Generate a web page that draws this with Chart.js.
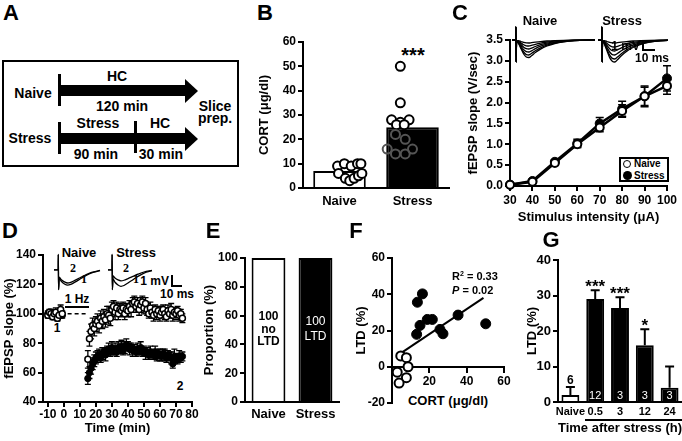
<!DOCTYPE html>
<html>
<head>
<meta charset="utf-8">
<script src="https://cdn.jsdelivr.net/npm/chart.js@4.4.1/dist/chart.umd.min.js"></script>
<style>
html,body{margin:0;padding:0;background:#fff;}
body{width:682px;height:441px;overflow:hidden;position:relative;font-family:"Liberation Sans",Arial,Helvetica,sans-serif;font-weight:bold;color:#000;}
canvas{position:absolute;}
.t{position:absolute;white-space:nowrap;line-height:1;}
.blk{position:absolute;background:#000;}
.tri{position:absolute;width:0;height:0;border-top:12px solid transparent;border-bottom:12px solid transparent;border-left:13px solid #000;}
</style>
</head>
<body>
<!-- Panel A diagram -->
<div style="position:absolute;left:2px;top:60px;width:237px;height:107px;border:2px solid #000;box-sizing:border-box;"></div>
<div class="blk" style="left:58px;top:74px;width:3px;height:32px"></div>
<div class="blk" style="left:59px;top:85px;width:127px;height:11px"></div>
<div class="tri" style="left:185px;top:78.5px"></div>
<div class="blk" style="left:58px;top:122px;width:3px;height:32px"></div>
<div class="blk" style="left:59px;top:133px;width:127px;height:11px"></div>
<div class="blk" style="left:134px;top:121px;width:3px;height:32px"></div>
<div class="tri" style="left:185px;top:126.5px"></div>
<!-- scale bars -->
<div class="blk" style="left:642px;top:40px;width:2px;height:11px"></div>
<div class="blk" style="left:642px;top:49px;width:13px;height:2px"></div>
<div class="blk" style="left:171px;top:275px;width:2px;height:12px"></div>
<div class="blk" style="left:171px;top:285px;width:11px;height:2px"></div>
<!-- 1 Hz bar -->
<div class="blk" style="left:65px;top:306px;width:24px;height:2px"></div>
<!-- G underline -->
<div class="blk" style="left:585px;top:419px;width:97px;height:1.5px"></div>
<!-- C legend -->
<div style="position:absolute;left:619px;top:157px;width:50px;height:25px;border:2px solid #000;box-sizing:border-box;background:#fff;"></div>
<div style="position:absolute;left:623px;top:160px;width:6px;height:6px;border:1.5px solid #000;border-radius:50%;background:#fff;"></div>
<div style="position:absolute;left:623px;top:171px;width:9px;height:9px;border-radius:50%;background:#000;"></div>

<script>
// ================= DATA =================
// Panel B
const bGroups = ['Naive', 'Stress'];
const bMeans = [7, 25];
const bNaiveVals = [9, 10, 9, 10, 10, 6, 4, 3, 4, 5, 6];
const bNaiveJitter = [-0.29, -0.15, -0.01, 0.12, 0.19, -0.27, -0.13, -0.04, 0.05, 0.14, 0.21];
const bStressVals = [50, 35, 28, 28, 27, 26, 26, 22, 20, 16, 14, 14, 16];
const bStressJitter = [0, 0, -0.18, 0.18, 0, -0.08, 0.08, -0.1, 0.1, -0.27, -0.1, 0.1, 0.25];
const bYTicks = [0, 10, 20, 30, 40, 50, 60];

// Panel C
const cIntensity = [30, 40, 50, 60, 70, 80, 90, 100];
const cNaive = [0.03, 0.1, 0.55, 1.0, 1.4, 1.8, 2.15, 2.4];
const cNaiveErr = [0.02, 0.03, 0.05, 0.08, 0.1, 0.15, 0.22, 0.2];
const cStress = [0.03, 0.12, 0.58, 1.02, 1.5, 1.85, 2.15, 2.58];
const cStressErr = [0.02, 0.03, 0.05, 0.1, 0.14, 0.18, 0.25, 0.3];
const cYTicks = [0, 0.5, 1, 1.5, 2, 2.5, 3, 3.5];
const cXTicks = [30, 40, 50, 60, 70, 80, 90, 100];
// Panel C inset traces (ms, mV)
const cTraceT = [0, 2.9, 3.0, 3.2, 3.5, 5, 7, 9, 11, 13, 15, 18, 22, 27, 33, 40, 48, 64];
const cNaiveTraces = [
  [0,0,1.3,-2.2,-0.1,-0.06,-0.15,-0.24,-0.29,-0.3,-0.27,-0.22,-0.16,-0.1,-0.06,-0.03,-0.01,0],
  [0,0,1.3,-2.2,-0.1,-0.12,-0.3,-0.48,-0.58,-0.6,-0.54,-0.43,-0.31,-0.2,-0.12,-0.06,-0.02,0],
  [0,0,1.3,-2.2,-0.1,-0.18,-0.45,-0.72,-0.87,-0.9,-0.81,-0.65,-0.47,-0.31,-0.18,-0.09,-0.04,0],
  [0,0,1.3,-2.2,-0.1,-0.24,-0.6,-0.96,-1.16,-1.2,-1.08,-0.86,-0.62,-0.41,-0.24,-0.12,-0.05,0],
  [0,0,1.3,-2.2,-0.1,-0.3,-0.75,-1.2,-1.46,-1.5,-1.35,-1.08,-0.78,-0.51,-0.3,-0.15,-0.06,0],
  [0,0,1.3,-2.2,-0.1,-0.35,-0.88,-1.4,-1.7,-1.75,-1.58,-1.26,-0.91,-0.6,-0.35,-0.18,-0.07,0]
];
const cStressTraces = [
  [0,0,1.3,-2.2,-0.1,-0.06,-0.15,-0.24,-0.29,-0.3,-0.27,-0.22,-0.16,-0.1,-0.06,-0.03,-0.01,0],
  [0,0,1.3,-2.2,-0.1,-0.14,-0.35,-0.56,-0.68,-0.7,-0.63,-0.5,-0.36,-0.24,-0.14,-0.07,-0.03,0],
  [0,0,1.3,-2.2,-0.1,-0.22,-0.55,-0.88,-1.07,-1.1,-0.99,-0.79,-0.57,-0.37,-0.22,-0.11,-0.04,0],
  [0,0,1.3,-2.2,-0.1,-0.3,-0.75,-1.2,-1.46,-1.5,-1.35,-1.08,-0.78,-0.51,-0.3,-0.15,-0.06,0],
  [0,0,1.3,-2.2,-0.1,-0.38,-0.95,-1.52,-1.84,-1.9,-1.71,-1.37,-0.99,-0.65,-0.38,-0.19,-0.08,0],
  [0,0,1.3,-2.2,-0.1,-0.44,-1.1,-1.76,-2.13,-2.2,-1.98,-1.58,-1.14,-0.75,-0.44,-0.22,-0.09,0]
];

// Panel D
const dBaseT = [-10, -9, -8, -7, -6, -5, -4, -3, -2, -1];
const dNaiveBase = [99, 101, 100, 98, 100, 101, 97, 99, 103, 100];
const dNaiveBaseErr = [2, 2, 3, 2, 2, 3, 2, 2, 3, 2];
const dStressBase = [100, 99, 101, 100, 99, 100, 98, 100, 101, 99];
const dStressBaseErr = [2, 2, 2, 2, 3, 2, 2, 2, 2, 2];
const dPostT = [15,16,17,18,19,20,21,22,23,24,25,26,27,28,29,30,31,32,33,34,35,36,37,38,39,40,41,42,43,44,
                45,46,47,48,49,50,51,52,53,54,55,56,57,58,59,60,61,62,63,64,65,66,67,68,69,70,71,72,73,74];
const dNaivePost = [69,83,88,92,90,93,95,92,97,95, 98,96,100,99,97,103,105,101,104,100,
                    103,102,104,100,103,102,105,103,107,108, 105,107,103,106,108,104,107,103,100,104,
                    101,99,103,100,102,99,101,103,100,98, 102,100,103,99,101,100,102,99,100,97];
const dNaivePostErr = [6,5,5,5,5,5,5,5,5,5, 5,5,5,6,5,5,4,5,4,4, 4,4,4,4,4,4,4,5,4,4,
                       4,4,4,5,4,4,4,4,3,4, 4,4,3,4,3,4,4,3,4,3, 4,3,4,4,3,4,3,4,3,3];
const dStressPost = [56,60,63,66,68,70,71,72,70,73, 74,72,75,76,74,77,75,76,74,77,
                     76,78,75,77,79,78,76,77,75,76, 74,76,75,77,74,75,73,74,72,74,
                     73,72,74,71,73,72,71,73,72,70, 72,71,70,66,71,70,69,71,70,71];
const dStressPostErr = [4,4,4,4,4,4,4,4,3,4, 3,4,3,4,3,4,3,4,3,4, 3,4,3,4,4,3,4,3,4,3,
                        3,4,3,4,3,3,4,3,3,4, 3,3,4,3,3,4,3,3,4,3, 3,3,4,3,5,3,3,4,3,3];
const dDashT = [-2, 15];
const dDashLevel = 100;
const dXTicks = [-10, 0, 10, 20, 30, 40, 50, 60, 70, 80];
const dYTicks = [40, 60, 80, 100, 120, 140];
// Panel D inset traces
const dTraceT = [0, 4, 4.1, 4.4, 5, 7, 10, 13, 16, 20, 25, 30, 36, 44];
const dNaiveTraces = [
  [0,0,1.4,-1.8,-0.77,-1.05,-1.29,-1.4,-1.33,-1.12,-0.84,-0.56,-0.28,-0.07],
  [0,0,1.4,-1.8,-0.66,-0.9,-1.1,-1.2,-1.14,-0.96,-0.72,-0.48,-0.24,-0.06]
];
const dStressTraces = [
  [0,0,1.4,-1.8,-0.83,-1.13,-1.38,-1.5,-1.43,-1.2,-0.9,-0.6,-0.3,-0.08],
  [0,0,1.4,-1.8,-0.55,-0.75,-0.92,-1.0,-0.95,-0.8,-0.6,-0.4,-0.2,-0.05]
];

// Panel E
const eGroups = ['Naive', 'Stress'];
const eValues = [100, 100];
const eBarText = [['100', 'no', 'LTD'], ['100', 'LTD']];
const eYTicks = [0, 20, 40, 60, 80, 100];

// Panel F
const fStressX = [13.6, 16.3, 15.0, 13.2, 18.9, 21.6, 25.7, 27.3, 35.4, 50.2];
const fStressY = [35.6, 40.2, 22.8, 17.9, 26.1, 26.1, 20.6, 18.2, 28.5, 23.7];
const fNaiveX = [4.7, 7.7, 8.6, 2.8, 7.7, 3.8];
const fNaiveY = [6, 5, 0, -3, -6, -9];
const fFitX = [5, 49];
const fFitY = [7.7, 38];
const fXTicks = [20, 40, 60];
const fYTicks = [-20, 0, 20, 40, 60];

// Panel G
const gLabels = ['Naive', '0.5', '3', '12', '24'];
const gMeans = [2, 29, 26.5, 16, 4];
const gErr = [2.2, 2.5, 3, 4.5, 6];
const gStars = ['', '***', '***', '*', ''];
const gN = ['6', '12', '3', '3', '3'];
const gYTicks = [0, 10, 20, 30, 40];

// ================= HELPERS =================
const FONT = '"Liberation Sans", Arial, Helvetica, sans-serif';
Chart.defaults.font.family = FONT;
Chart.defaults.font.weight = 'bold';
Chart.defaults.color = '#000';

function txt(html, cx, cy, size, extra, anchor) {
  const d = document.createElement('div');
  d.className = 't';
  d.innerHTML = html;
  d.style.left = cx + 'px';
  d.style.top = cy + 'px';
  d.style.fontSize = size + 'px';
  d.style.transform = anchor === 'left' ? 'translate(0,-50%)' : anchor === 'right' ? 'translate(-100%,-50%)' : 'translate(-50%,-50%)';
  if (extra) Object.assign(d.style, extra);
  document.body.appendChild(d);
  return d;
}

const PAD = 24;
function mk(area, yW, xH, cfg) {
  const c = document.createElement('canvas');
  const w = Math.round(area.r - area.l + yW + 2 * PAD);
  const h = Math.round(area.b - area.t + xH + 2 * PAD);
  c.style.left = (area.l - yW - PAD) + 'px';
  c.style.top = (area.t - PAD) + 'px';
  c.style.width = w + 'px';
  c.style.height = h + 'px';
  c.width = w; c.height = h;
  document.body.appendChild(c);
  const opts = cfg.options || {};
  cfg.options = Object.assign({responsive: false, maintainAspectRatio: false, animation: false, layout: {padding: PAD}}, opts);
  cfg.options.plugins = Object.assign({legend: {display: false}, tooltip: {enabled: false}}, opts.plugins || {});
  return new Chart(c, cfg);
}

function tickFont(sz) { return {family: FONT, weight: 'bold', size: sz || 12}; }
function titleOpt(text, sz) {
  return {display: !!text, text: text || '', color: '#000', font: {family: FONT, weight: 'bold', size: sz || 13}, padding: 0};
}
function linAxis(o) {
  const horiz = o.pos !== 'left';
  return {
    type: 'linear', position: o.pos, min: o.min, max: o.max,
    afterFit: s => { if (o.size != null) { if (horiz) s.height = o.size; else s.width = o.size; } },
    afterBuildTicks: s => { s.ticks = o.ticks.map(v => ({value: v})); },
    ticks: {autoSkip: false, maxRotation: 0, minRotation: 0, padding: o.pad == null ? 2 : o.pad, color: '#000',
            font: tickFont(o.fontSize), callback: o.fmt || (v => String(v))},
    grid: {drawOnChartArea: false, drawTicks: true, tickLength: o.tl == null ? 5 : o.tl, color: '#000', lineWidth: 2, tickWidth: 2},
    border: {display: true, color: '#000', width: 2},
    title: titleOpt(o.title, o.titleSize)
  };
}
function catAxis(o) {
  return {
    type: 'category', position: 'bottom', offset: true,
    afterFit: s => { s.height = o.size; },
    ticks: {autoSkip: false, maxRotation: 0, minRotation: 0, padding: o.pad, color: '#000', font: tickFont(o.fontSize)},
    grid: {display: false, drawTicks: false},
    border: {display: true, color: '#000', width: 2},
    title: titleOpt(o.title, o.titleSize)
  };
}

// error bars drawn through the chart's own scales
function drawErr(chart, when) {
  const ctx = chart.ctx;
  chart.data.datasets.forEach((ds, i) => {
    if (!ds.errors || (ds.errWhen || 'before') !== when) return;
    const meta = chart.getDatasetMeta(i);
    const ys = chart.scales[meta.yAxisID];
    ctx.save();
    ctx.strokeStyle = '#000';
    ctx.lineWidth = ds.errWidth || 1.5;
    meta.data.forEach((el, j) => {
      const e = ds.errors[j];
      if (!e) return;
      const raw = ds.data[j];
      const v = (typeof raw === 'object') ? raw.y : raw;
      const x = el.x;
      const yTop = ys.getPixelForValue(v + e);
      const yBot = ys.getPixelForValue(v - e);
      const y0 = ds.errUpOnly ? ys.getPixelForValue(v) : yBot;
      const cap = ds.errCap || 4;
      ctx.beginPath();
      ctx.moveTo(x, y0); ctx.lineTo(x, yTop);
      ctx.moveTo(x - cap, yTop); ctx.lineTo(x + cap, yTop);
      if (!ds.errUpOnly) { ctx.moveTo(x - cap, yBot); ctx.lineTo(x + cap, yBot); }
      ctx.stroke();
    });
    ctx.restore();
  });
}
const errPlugin = {
  id: 'errBars',
  beforeDatasetsDraw(chart) { drawErr(chart, 'before'); },
  afterDatasetsDraw(chart) { drawErr(chart, 'after'); }
};

function xy(xs, ys) { return xs.map((x, i) => ({x: x, y: ys[i]})); }

// ================= PANEL A text =================
txt('A', 11, 13, 22);
txt('Naive', 33, 93, 14);
txt('HC', 117, 76, 14);
txt('120 min', 122, 106, 14);
txt('Stress', 30, 138, 14);
txt('Stress', 98, 123, 14);
txt('HC', 160, 123, 14);
txt('90 min', 96, 154, 14);
txt('30 min', 161, 154, 14);
txt('Slice', 215, 106, 14);
txt('prep.', 215, 118, 14);

// ================= PANEL B =================
txt('B', 265, 13, 22);
txt('***', 413, 55, 20);
mk({l: 303, r: 449, t: 42, b: 188}, 46, 30, {
  type: 'bar',
  data: {
    labels: bGroups,
    datasets: [
      {type: 'scatter', xAxisID: 'x2', order: 0, clip: false,
       data: xy(bNaiveJitter.map(j => 0 + j), bNaiveVals),
       pointRadius: 4.5, pointBorderWidth: 2, pointBorderColor: '#000', pointBackgroundColor: '#fff'},
      {type: 'scatter', xAxisID: 'x2', order: 0, clip: false,
       data: xy(bStressJitter.map(j => 1 + j), bStressVals),
       pointRadius: 4.5, pointBorderWidth: 2,
       pointBorderColor: ctx => (ctx.raw && ctx.raw.y < bMeans[1]) ? '#555' : '#000',
       pointBackgroundColor: ctx => (ctx.raw && ctx.raw.y < bMeans[1]) ? 'rgba(0,0,0,0)' : '#fff'},
      {type: 'bar', xAxisID: 'x', order: 1, grouped: false, data: bMeans, backgroundColor: ['#fff', '#000'], borderColor: '#000', borderWidth: 2,
       barPercentage: 0.72, categoryPercentage: 1}
    ]
  },
  options: {
    scales: {
      x: catAxis({size: 30, pad: 6, fontSize: 13}),
      x2: {type: 'linear', position: 'bottom', display: false, min: -0.5, max: 1.5},
      y: linAxis({pos: 'left', min: 0, max: 60, ticks: bYTicks, size: 46, title: 'CORT (\u03bcg/dl)'})
    }
  }
});

// ================= PANEL C =================
txt('C', 460, 13, 22);
txt('Naive', 540, 20, 13);
txt('Stress', 622, 20, 13);
txt('1 mV', 640, 46, 12, null, 'right');
txt('10 ms', 652, 58, 12);
txt('Naive', 634, 164, 10, null, 'left');
txt('Stress', 634, 176, 10, null, 'left');
mk({l: 510, r: 667, t: 40, b: 186}, 44, 39, {
  type: 'scatter',
  data: {
    datasets: [
      {label: 'Naive', order: 0, clip: false, data: xy(cIntensity, cNaive), errors: cNaiveErr, errCap: 4,
       showLine: true, borderColor: '#000', borderWidth: 2.5,
       pointRadius: 4, pointBorderWidth: 2, pointBorderColor: '#000', pointBackgroundColor: '#fff'},
      {label: 'Stress', order: 1, clip: false, data: xy(cIntensity, cStress), errors: cStressErr, errCap: 4,
       showLine: true, borderColor: '#000', borderWidth: 2.5,
       pointRadius: 4.5, pointBorderWidth: 1, pointBorderColor: '#000', pointBackgroundColor: '#000'}
    ]
  },
  options: {
    scales: {
      x: linAxis({pos: 'bottom', min: 30, max: 100, ticks: cXTicks, size: 39, pad: 2, title: 'Stimulus intensity (\u03bcA)'}),
      y: linAxis({pos: 'left', min: 0, max: 3.5, ticks: cYTicks, size: 44, fmt: v => v.toFixed(1), title: 'fEPSP slope (V/sec)'})
    }
  },
  plugins: [errPlugin]
});

function traceChart(area, times, traces, xr, yr, clip) {
  return mk(area, 0, 0, {
    type: 'line',
    data: {datasets: traces.map(tr => ({data: xy(times, tr), borderColor: '#000', borderWidth: 1.3, pointRadius: 0,
                                        cubicInterpolationMode: 'monotone', clip: clip}))},
    options: {scales: {
      x: {type: 'linear', min: xr[0], max: xr[1], display: false},
      y: {type: 'linear', min: yr[0], max: yr[1], display: false}
    }}
  });
}
traceChart({l: 512, r: 595, t: 25, b: 65}, cTraceT, cNaiveTraces, [0, 64], [-2.5, 1.5], false);
traceChart({l: 598, r: 668, t: 25, b: 65}, cTraceT, cStressTraces, [0, 54], [-2.5, 1.5], undefined);

// ================= PANEL D =================
txt('D', 10, 231, 22);
txt('Naive', 79, 252, 13);
txt('Stress', 136, 252, 13);
txt('2', 73, 268, 12, {fontFamily: '"Liberation Serif", "Times New Roman", serif'});
txt('1', 84, 279, 12, {fontFamily: '"Liberation Serif", "Times New Roman", serif'});
txt('2', 126, 268, 12, {fontFamily: '"Liberation Serif", "Times New Roman", serif'});
txt('1', 136, 279, 12, {fontFamily: '"Liberation Serif", "Times New Roman", serif'});
txt('1 mV', 169, 281, 12, null, 'right');
txt('10 ms', 177, 294, 12);
txt('1 Hz', 77, 299, 12);
txt('1', 57, 328, 12);
txt('2', 180, 386, 12);
traceChart({l: 54, r: 100, t: 250, b: 294}, dTraceT, dNaiveTraces, [0, 44], [-2.2, 1.8], false);
traceChart({l: 108, r: 152, t: 250, b: 294}, dTraceT, dStressTraces, [0, 44], [-2.2, 1.8], false);
mk({l: 43, r: 191.5, t: 255, b: 402}, 41, 34, {
  type: 'scatter',
  data: {
    datasets: [
      {order: 0, clip: false, data: xy(dBaseT.concat(dPostT), dNaiveBase.concat(dNaivePost)),
       errors: dNaiveBaseErr.concat(dNaivePostErr), errCap: 3, errWidth: 1.3,
       pointRadius: 3, pointBorderWidth: 1.5, pointBorderColor: '#000', pointBackgroundColor: '#fff'},
      {order: 1, clip: false, data: xy(dBaseT.concat(dPostT), dStressBase.concat(dStressPost)),
       errors: dStressBaseErr.concat(dStressPostErr), errCap: 3, errWidth: 1.3,
       pointRadius: 3.2, pointBorderWidth: 1, pointBorderColor: '#000', pointBackgroundColor: '#000'},
      {type: 'line', order: 2, data: xy(dDashT, dDashT.map(() => dDashLevel)), borderColor: '#000', borderWidth: 1.5,
       borderDash: [4, 3], pointRadius: 0}
    ]
  },
  options: {
    scales: {
      x: linAxis({pos: 'bottom', min: -13, max: 80, ticks: dXTicks, size: 34, pad: 0, title: 'Time (min)'}),
      y: linAxis({pos: 'left', min: 40, max: 140, ticks: dYTicks, size: 41, title: 'fEPSP slope (%)'})
    }
  },
  plugins: [errPlugin]
});

// ================= PANEL E =================
txt('E', 213, 231, 22);
const eTextPlugin = {
  id: 'eText',
  afterDatasetsDraw(chart) {
    const ctx = chart.ctx;
    const meta = chart.getDatasetMeta(0);
    meta.data.forEach((bar, i) => {
      const lines = eBarText[i];
      const cy = (bar.y + bar.base) / 2;
      const dark = chart.data.datasets[0].backgroundColor[i] === '#000';
      const lh = dark ? 15 : 12.5;
      ctx.save();
      ctx.fillStyle = dark ? '#fff' : '#000';
      ctx.font = (dark ? 'normal ' : 'bold ') + '12px ' + FONT;
      ctx.textAlign = 'center';
      ctx.textBaseline = 'middle';
      lines.forEach((ln, k) => ctx.fillText(ln, bar.x, cy + (k - (lines.length - 1) / 2) * lh));
      ctx.restore();
    });
  }
};
mk({l: 245, r: 339, t: 258, b: 402}, 43, 25, {
  type: 'bar',
  data: {labels: eGroups, datasets: [{data: eValues, backgroundColor: ['#fff', '#000'], borderColor: '#000', borderWidth: 2,
                                      barPercentage: 0.72, categoryPercentage: 1}]},
  options: {
    scales: {
      x: catAxis({size: 25, pad: 5, fontSize: 13}),
      y: linAxis({pos: 'left', min: 0, max: 100, ticks: eYTicks, size: 43, title: 'Proportion (%)'})
    }
  },
  plugins: [eTextPlugin]
});

// ================= PANEL F =================
txt('F', 356, 231, 22);
txt('R<sup style="font-size:7px">2</sup> = 0.33', 452, 276, 11, null, 'left');
txt('<i>P</i> = 0.02', 452, 290, 11, null, 'left');
txt('CORT (\u03bcg/dl)', 448, 400, 13);
mk({l: 392, r: 504, t: 258, b: 403}, 38, 0, {
  type: 'scatter',
  data: {
    datasets: [
      {order: 0, clip: false, data: xy(fNaiveX, fNaiveY), pointRadius: 4.5, pointBorderWidth: 2,
       pointBorderColor: '#000', pointBackgroundColor: '#fff'},
      {order: 1, clip: false, data: xy(fStressX, fStressY), pointRadius: 5, pointBorderWidth: 1,
       pointBorderColor: '#000', pointBackgroundColor: '#000'},
      {type: 'line', order: 2, data: xy(fFitX, fFitY), borderColor: '#000', borderWidth: 2, pointRadius: 0}
    ]
  },
  options: {
    scales: {
      x: linAxis({pos: {y: 0}, min: 0, max: 60, ticks: fXTicks, pad: 3}),
      y: linAxis({pos: 'left', min: -20, max: 60, ticks: fYTicks, size: 38, title: 'LTD (%)'})
    }
  }
});

// ================= PANEL G =================
txt('G', 551, 240, 22);
const gTextPlugin = {
  id: 'gText',
  afterDatasetsDraw(chart) {
    const ctx = chart.ctx;
    const ys = chart.scales.y;
    const meta = chart.getDatasetMeta(0);
    const cols = chart.data.datasets[0].backgroundColor;
    meta.data.forEach((bar, i) => {
      const top = ys.getPixelForValue(gMeans[i] + gErr[i]);
      ctx.save();
      ctx.textAlign = 'center';
      ctx.textBaseline = 'alphabetic';
      if (gStars[i]) {
        ctx.fillStyle = '#000';
        ctx.font = 'bold 17px ' + FONT;
        ctx.fillText(gStars[i], bar.x, top + 2);
      }
      if (cols[i] === '#000') {
        ctx.fillStyle = '#fff';
        ctx.font = 'normal 11px ' + FONT;
        ctx.fillText(gN[i], bar.x, ys.getPixelForValue(0) - 3);
      } else {
        ctx.fillStyle = '#000';
        ctx.font = 'bold 12px ' + FONT;
        ctx.fillText(gN[i], bar.x, top - 3);
      }
      ctx.restore();
    });
  }
};
mk({l: 558, r: 682, t: 260, b: 402}, 33, 34, {
  type: 'bar',
  data: {labels: gLabels, datasets: [{data: gMeans, errors: gErr, errUpOnly: true, errWhen: 'after', errCap: 4.5, errWidth: 2,
                                      backgroundColor: ['#fff', '#000', '#000', '#000', '#000'], borderColor: '#000', borderWidth: 2,
                                      barPercentage: 0.72, categoryPercentage: 1}]},
  options: {
    scales: {
      x: catAxis({size: 34, pad: 3, fontSize: 11, title: 'Time after stress (h)'}),
      y: linAxis({pos: 'left', min: 0, max: 40, ticks: gYTicks, size: 33, title: 'LTD (%)', fontSize: 13})
    }
  },
  plugins: [errPlugin, gTextPlugin]
});
</script>
</body>
</html>
